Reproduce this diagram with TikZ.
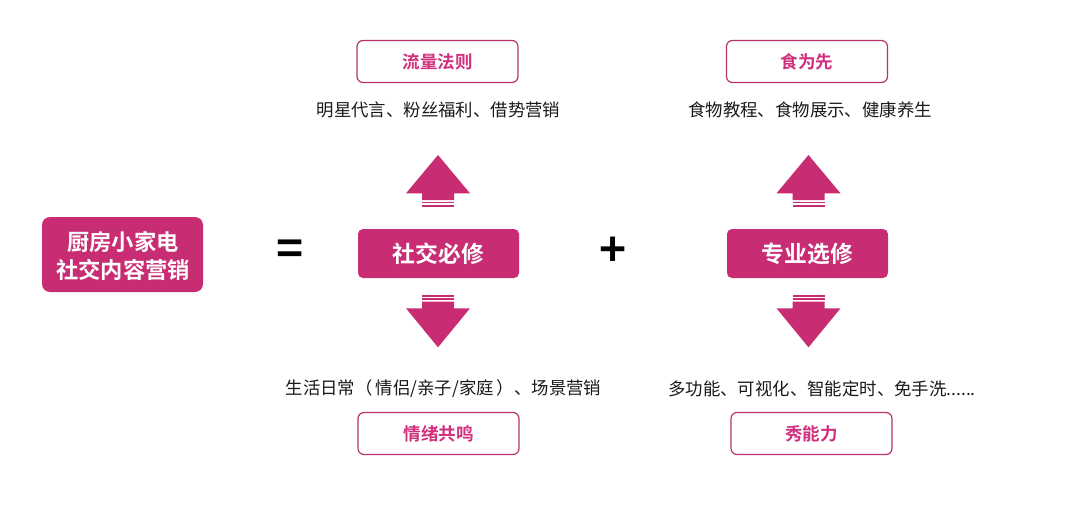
\documentclass[tikz,border=0pt]{standalone}
\usepackage{fontspec}
\setmainfont{Noto Sans CJK SC}
\newfontfamily\cjkb{Noto Sans CJK SC Bold}
\definecolor{mag}{HTML}{C82D73}
\definecolor{magline}{HTML}{B8336E}
\definecolor{magtext}{HTML}{D0307E}
\definecolor{bodytext}{HTML}{1A1A1A}
\tikzset{
  solidbox/.style={fill=mag, rounded corners=5pt, minimum width=161pt, minimum height=49pt, text=white, font=\cjkb\fontsize{22.8}{26}\selectfont, inner sep=0pt},
  outbox/.style={draw=magline, line width=1.2pt, rounded corners=6pt, minimum width=161pt, minimum height=42pt, text=magtext, font=\cjkb\fontsize{17.5}{20}\selectfont, inner sep=0pt},
  bodylabel/.style={text=bodytext, font=\fontsize{17.4}{20}\selectfont, inner sep=0pt},
  sym/.style={text=black, font=\cjkb\fontsize{46}{50}\selectfont, inner sep=0pt},
  arrowfill/.style={fill=mag, draw=none}
}
\begin{document}
\begin{tikzpicture}[x=1pt,y=-1pt]
\useasboundingbox (0,0) rectangle (1080,507);
\fill[white] (0,0) rectangle (1080,507);

% left box
\node[fill=mag, rounded corners=8pt, minimum width=161pt, minimum height=75pt, inner sep=0pt] (main) at (122.5,254.5) {};
\node[text=white, font=\cjkb\fontsize{22.3}{28}\selectfont, align=center, inner sep=0pt] (maintext) at (123,256) {厨房小家电\\社交内容营销};

\node[sym] (eq) at (290,253) {=};
\node[sym] (plus) at (613.5,252) {+};

% social column
\node[solidbox] (social) at (438.5,253.5) {社交必修};
\node[outbox] (flow) at (437.5,61.5) {流量法则};
\node[bodylabel] (flowtxt) at (438.5,110) {明星代言、粉丝福利、借势营销};
\node[bodylabel] (emotxt) at (443.5,389) {生活日常（\hspace{3pt}情侣/亲子/家庭\hspace{3pt}）、场景营销};
\node[outbox] (emo) at (438.5,433.5) {情绪共鸣};

% professional column
\node[solidbox] (pro) at (807.5,253.5) {专业选修};
\node[outbox] (food) at (807,61.5) {食为先};
\node[bodylabel] (foodtxt) at (810,110) {食物教程、食物展示、健康养生};
\node[bodylabel] (showtxt) at (822,389) {多功能、可视化、智能定时、免手洗......};
\node[outbox] (show) at (811.5,433.5) {秀能力};

% arrows
\foreach \cx/\nm in {438/a, 808.5/b} {
  % up arrow
  \fill[arrowfill] (\cx,155) -- (\cx+32,193.3) -- (\cx+16,193.3) -- (\cx+16,200) -- (\cx-16,200) -- (\cx-16,193.3) -- (\cx-32,193.3) -- cycle;
  \fill[arrowfill] (\cx-16,201.7) rectangle (\cx+16,203.3);
  \fill[arrowfill] (\cx-16,205) rectangle (\cx+16,207.3);
  % down arrow
  \fill[arrowfill] (\cx-16,295) rectangle (\cx+16,297);
  \fill[arrowfill] (\cx-16,298.3) rectangle (\cx+16,300.3);
  \fill[arrowfill] (\cx,347.3) -- (\cx+32,308.3) -- (\cx+16,308.3) -- (\cx+16,301.7) -- (\cx-16,301.7) -- (\cx-16,308.3) -- (\cx-32,308.3) -- cycle;
}
\end{tikzpicture}
\end{document}
